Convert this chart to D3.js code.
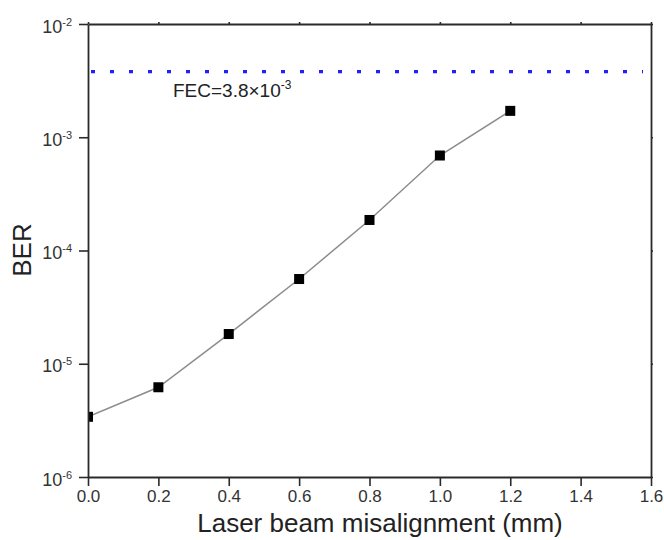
<!DOCTYPE html>
<html>
<head>
<meta charset="utf-8">
<script src="https://cdn.jsdelivr.net/npm/d3@7"></script>
<style>
  body { margin: 0; background: #fff; }
  svg { display: block; font-family: "Liberation Sans", Arial, sans-serif; }
</style>
</head>
<body>
<div id="chart"></div>
<script>
// data
const misalignment = [0.0, 0.2, 0.4, 0.6, 0.8, 1.0, 1.2];
const ber = [3.4e-6, 6.2e-6, 1.83e-5, 5.6e-5, 1.86e-4, 6.9e-4, 1.71e-3];
const fecLimit = 3.8e-3;
const xTicks = [0, 0.2, 0.4, 0.6, 0.8, 1.0, 1.2, 1.4, 1.6];
const yTicks = [1e-6, 1e-5, 1e-4, 1e-3, 1e-2];

let width = 664, height = 540;
let margin = { left: 88, right: 13, top: 24, bottom: 63 };

let svg = d3.select("#chart")
  .append("svg")
  .attr("width", width)
  .attr("height", height);

let x = d3.scaleLinear()
  .domain([0, 1.6])
  .range([margin.left, width - margin.right]);

let y = d3.scaleLog()
  .domain([1e-6, 1e-2])
  .range([height - margin.bottom, margin.top]);

svg.append("clipPath")
  .attr("id", "plot-clip")
  .append("rect")
  .attr("x", margin.left)
  .attr("y", margin.top)
  .attr("width", x.range()[1] - margin.left)
  .attr("height", y.range()[0] - margin.top);

// FEC threshold
svg.append("line")
  .attr("x1", x(0) + 3)
  .attr("x2", x(1.6) - 8)
  .attr("y1", y(fecLimit))
  .attr("y2", y(fecLimit))
  .attr("stroke", "#1f1fff")
  .attr("stroke-width", 3.4)
  .attr("stroke-dasharray", "4 15");

let fec = svg.append("text")
  .attr("x", 173)
  .attr("y", 97)
  .attr("font-size", 19)
  .attr("fill", "#222");
fec.append("tspan").text("FEC=3.8\u00d710");
fec.append("tspan").attr("font-size", 12).attr("dy", -8).text("-3");

let plot = svg.append("g").attr("clip-path", "url(#plot-clip)");

plot.append("path")
  .datum(misalignment.map((d, i) => [d, ber[i]]))
  .attr("fill", "none")
  .attr("stroke", "#8c8c8c")
  .attr("stroke-width", 1.5)
  .attr("d", d3.line().x(d => x(d[0])).y(d => y(d[1])));

plot.selectAll("rect.pt")
  .data(misalignment)
  .join("rect")
  .attr("class", "pt")
  .attr("x", d => x(d) - 5)
  .attr("y", (d, i) => y(ber[i]) - 5)
  .attr("width", 10)
  .attr("height", 10)
  .attr("fill", "#000");

// axes
let xAxis = svg.append("g")
  .attr("transform", `translate(0,${y.range()[0]})`)
  .call(d3.axisBottom(x).tickValues(xTicks).tickSize(9).tickSizeOuter(0).tickPadding(4)
    .tickFormat(d3.format(".1f")));

let xTop = svg.append("g")
  .attr("transform", `translate(0,${margin.top})`)
  .call(d3.axisTop(x).tickValues(xTicks).tickSize(2).tickSizeOuter(0).tickFormat(""));

let yAxis = svg.append("g")
  .attr("transform", `translate(${margin.left},0)`)
  .call(d3.axisLeft(y).tickValues(yTicks).tickSize(9).tickSizeOuter(0).tickPadding(7)
    .tickFormat(""));

let yRight = svg.append("g")
  .attr("transform", `translate(${x.range()[1]},0)`)
  .call(d3.axisRight(y).tickValues(yTicks).tickSize(2).tickSizeOuter(0).tickFormat(""));

[xAxis, xTop, yAxis, yRight].forEach(g => {
  g.select(".domain").attr("stroke", "#2a2a2a").attr("stroke-width", 1.8);
  g.selectAll(".tick line").attr("stroke", "#2a2a2a").attr("stroke-width", 1.6);
});

xAxis.selectAll(".tick text")
  .attr("font-size", 17)
  .attr("fill", "#333")
  .attr("font-family", "Liberation Sans, Arial, sans-serif");

yAxis.selectAll(".tick").each(function(d) {
  let t = d3.select(this).append("text")
    .attr("x", -16)
    .attr("dy", "0.45em")
    .attr("text-anchor", "end")
    .attr("fill", "#333")
    .attr("font-size", 18)
    .attr("font-family", "Liberation Sans, Arial, sans-serif");
  t.append("tspan").text("10");
  t.append("tspan")
    .attr("font-size", 11)
    .attr("dy", -7)
    .text(Math.round(Math.log10(d)));
});

// axis titles
svg.append("text")
  .attr("x", 380)
  .attr("y", 532)
  .attr("text-anchor", "middle")
  .attr("font-size", 26)
  .attr("fill", "#222")
  .text("Laser beam misalignment (mm)");

svg.append("text")
  .attr("transform", `translate(31,250) rotate(-90)`)
  .attr("text-anchor", "middle")
  .attr("font-size", 26)
  .attr("fill", "#222")
  .text("BER");
</script>
</body>
</html>
